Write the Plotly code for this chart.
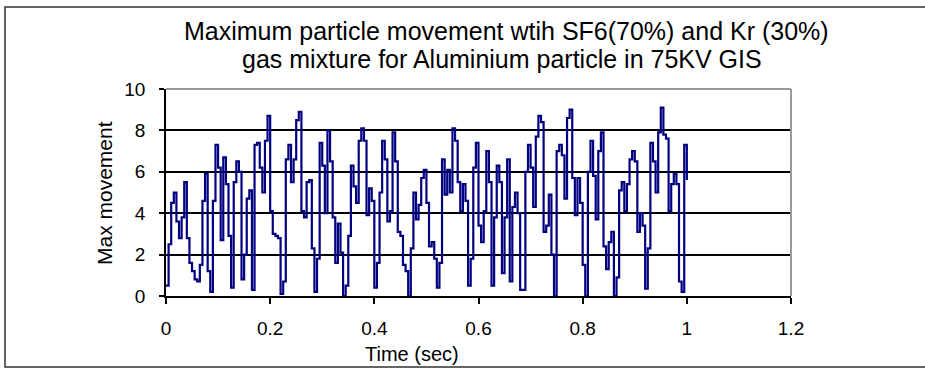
import plotly.graph_objects as go

# Sampling step of the particle-movement record (seconds)
dt = 0.005

# Maximum movement sampled every 5 ms from 0 to 1 s
movement = [
    0.5, 2.5, 4.5, 5.0, 3.6, 2.8, 3.8, 5.5, 2.8, 1.6,
    1.2, 0.8, 0.7, 1.5, 4.6, 5.9, 1.2, 0.2, 4.6, 7.3,
    6.2, 2.7, 6.7, 5.4, 2.9, 0.4, 5.5, 6.5, 6.0, 0.8,
    2.0, 4.7, 5.1, 0.3, 7.3, 7.4, 6.2, 5.0, 7.5, 8.7,
    4.1, 3.0, 2.9, 2.8, 0.1, 0.7, 6.6, 7.3, 5.5, 6.6,
    8.5, 8.9, 4.1, 3.8, 5.5, 5.6, 2.3, 0.2, 1.8, 7.4,
    6.3, 4.0, 8.0, 6.5, 3.8, 1.6, 3.5, 2.1, 0.0, 0.5,
    2.9, 6.3, 5.3, 4.5, 7.5, 8.1, 7.5, 3.9, 5.2, 4.6,
    0.4, 1.6, 5.0, 7.5, 6.6, 3.6, 4.1, 7.9, 6.5, 3.1,
    2.9, 1.5, 1.2, 0.0, 2.3, 5.0, 3.7, 4.4, 5.7, 6.1,
    4.5, 2.4, 2.6, 1.8, 0.4, 1.6, 6.6, 4.9, 6.1, 5.0,
    8.1, 7.5, 5.5, 4.1, 5.4, 4.6, 0.5, 1.8, 6.2, 7.4,
    3.4, 2.6, 4.1, 7.0, 5.5, 0.5, 3.8, 6.3, 5.5, 1.1,
    3.8, 6.6, 0.7, 4.3, 5.0, 4.0, 0.3, 0.3, 6.0, 7.3,
    6.2, 4.3, 7.7, 8.7, 8.4, 3.1, 3.4, 4.9, 2.0, 0.0,
    7.0, 7.3, 6.8, 4.7, 8.6, 9.0, 5.7, 3.9, 5.7, 4.5,
    1.5, 0.0, 6.0, 7.5, 5.8, 3.7, 7.0, 7.9, 2.4, 1.3,
    2.6, 3.1, 0.0, 0.9, 5.1, 5.5, 4.1, 5.4, 6.6, 7.0,
    6.5, 3.1, 4.0, 3.4, 0.35, 2.3, 7.4, 6.5, 5.0, 7.9,
    9.1, 7.8, 7.6, 4.1, 5.4, 5.9, 5.4, 0.7, 0.2, 7.3,
    5.6,
]
time_s = [round(i * dt, 3) for i in range(len(movement))]

x_ticks = [0, 0.2, 0.4, 0.6, 0.8, 1, 1.2]
x_tick_text = ["0", "0.2", "0.4", "0.6", "0.8", "1", "1.2"]
y_ticks = [0, 2, 4, 6, 8, 10]

title_lines = [
    "Maximum particle movement wtih SF6(70%) and Kr (30%)",
    "gas mixture for Aluminium particle in 75KV GIS",
]

NAVY = "#000080"
FONT = "Liberation Sans"

W, H = 925, 370
L, R, T, B = 166, 134, 89, 74
PW, PH = W - L - R, H - T - B


def px_to_paper_x(px):
    return (px - L) / PW


def py_to_paper_y(py):
    return (H - B - py) / PH


fig = go.Figure()
fig.add_trace(
    go.Scatter(
        x=time_s,
        y=movement,
        mode="lines",
        line=dict(color=NAVY, width=2.2, shape="hv"),
        showlegend=False,
        hoverinfo="x+y",
    )
)

fig.update_layout(
    width=W,
    height=H,
    margin=dict(l=L, r=R, t=T, b=B),
    paper_bgcolor="white",
    plot_bgcolor="white",
    font=dict(family=FONT, color="black"),
)

fig.update_xaxes(
    range=[0, 1.2],
    tickvals=x_ticks,
    ticktext=x_tick_text,
    showgrid=False,
    zeroline=False,
    showline=True,
    linecolor="black",
    linewidth=1.5,
    ticks="outside",
    ticklen=6,
    tickwidth=1.5,
    tickcolor="black",
    tickfont=dict(size=19, family=FONT),
    ticklabelstandoff=8,
    mirror=False,
)
fig.update_yaxes(
    range=[0, 10],
    tickvals=y_ticks,
    showgrid=True,
    gridcolor="black",
    gridwidth=1.5,
    zeroline=False,
    showline=True,
    linecolor="black",
    linewidth=1.5,
    ticks="outside",
    ticklen=5,
    tickwidth=1.5,
    tickcolor="black",
    tickfont=dict(size=19, family=FONT),
    ticklabelstandoff=10,
)

# Grey frame on the top and right of the plotting area
fig.add_shape(type="line", xref="paper", yref="paper", x0=0, x1=1, y0=1, y1=1,
              line=dict(color="#9a9a9a", width=2))
fig.add_shape(type="line", xref="paper", yref="paper", x0=1, x1=1, y0=0, y1=1,
              line=dict(color="#9a9a9a", width=2))

# Outer border around the whole chart
fig.add_shape(
    type="rect", xref="paper", yref="paper",
    x0=px_to_paper_x(5), x1=px_to_paper_x(930),
    y0=py_to_paper_y(367), y1=py_to_paper_y(7),
    line=dict(color="#333333", width=1.5),
    layer="below",
)

# Two-line chart title
for text, cx, cy in [(title_lines[0], 506, 31), (title_lines[1], 502, 59)]:
    fig.add_annotation(
        text=text, xref="paper", yref="paper",
        x=px_to_paper_x(cx), y=py_to_paper_y(cy),
        xanchor="center", yanchor="middle", showarrow=False,
        font=dict(size=25, family=FONT, color="black"),
    )

# Axis titles
fig.add_annotation(
    text="Time (sec)", xref="paper", yref="paper",
    x=px_to_paper_x(412), y=py_to_paper_y(354),
    xanchor="center", yanchor="middle", showarrow=False,
    font=dict(size=20, family=FONT, color="black"),
)
fig.add_annotation(
    text="Max movement", xref="paper", yref="paper",
    x=px_to_paper_x(104), y=py_to_paper_y(193),
    xanchor="center", yanchor="middle", showarrow=False, textangle=-90,
    font=dict(size=21, family=FONT, color="black"),
)

fig.write_html("out.html")
